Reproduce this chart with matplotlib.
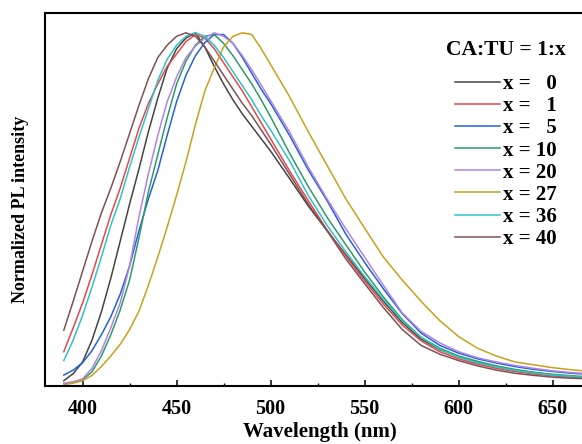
import matplotlib
matplotlib.use("Agg")
import matplotlib.pyplot as plt
from matplotlib.font_manager import FontProperties

plt.rcParams['font.family'] = ['Liberation Serif', 'DejaVu Serif']
plt.rcParams['font.weight'] = 'bold'

wavelength = [390, 395, 400, 405, 410, 415, 420, 425, 430, 435, 440, 445, 450, 455,
              460, 465, 470, 475, 480, 485, 490, 495, 500, 510, 520, 530, 540, 550,
              560, 570, 580, 590, 600, 610, 620, 630, 640, 650, 660, 666]

x0 = [0.015, 0.035, 0.068, 0.13, 0.21, 0.305, 0.41, 0.515, 0.615, 0.72, 0.815, 0.9, 0.955, 0.985,
      1.0, 0.96, 0.905, 0.855, 0.81, 0.77, 0.735, 0.7, 0.665, 0.588, 0.51, 0.44, 0.372, 0.305,
      0.24, 0.18, 0.133, 0.103, 0.083, 0.067, 0.055, 0.045, 0.038, 0.032, 0.027, 0.025]
x1 = [0.097, 0.165, 0.235, 0.315, 0.4, 0.485, 0.56, 0.645, 0.73, 0.8, 0.855, 0.905, 0.94, 0.975,
      0.995, 0.985, 0.955, 0.915, 0.875, 0.835, 0.79, 0.745, 0.7, 0.61, 0.525, 0.442, 0.368, 0.298,
      0.232, 0.173, 0.128, 0.097, 0.077, 0.062, 0.05, 0.041, 0.034, 0.029, 0.025, 0.024]
x5 = [0.031, 0.045, 0.066, 0.1, 0.145, 0.196, 0.26, 0.34, 0.44, 0.53, 0.61, 0.71, 0.805, 0.88,
      0.935, 0.972, 0.995, 0.995, 0.97, 0.93, 0.885, 0.84, 0.8, 0.71, 0.612, 0.525, 0.43, 0.35,
      0.275, 0.205, 0.15, 0.115, 0.093, 0.077, 0.065, 0.055, 0.047, 0.041, 0.036, 0.034]
x10 = [0.005, 0.01, 0.018, 0.04, 0.085, 0.145, 0.215, 0.3, 0.42, 0.55, 0.655, 0.76, 0.855, 0.92,
       0.965, 0.99, 0.995, 0.97, 0.935, 0.895, 0.855, 0.81, 0.762, 0.66, 0.565, 0.478, 0.4, 0.323,
       0.252, 0.188, 0.138, 0.107, 0.085, 0.07, 0.057, 0.047, 0.039, 0.033, 0.029, 0.027]
x20 = [0.008, 0.012, 0.02, 0.05, 0.1, 0.165, 0.235, 0.34, 0.48, 0.6, 0.71, 0.805, 0.875, 0.93,
       0.962, 0.985, 1.0, 0.99, 0.97, 0.935, 0.895, 0.852, 0.808, 0.72, 0.62, 0.53, 0.445, 0.365,
       0.285, 0.207, 0.155, 0.122, 0.097, 0.08, 0.068, 0.058, 0.05, 0.043, 0.038, 0.036]
x27 = [0.004, 0.008, 0.015, 0.03, 0.055, 0.085, 0.118, 0.16, 0.212, 0.285, 0.365, 0.45, 0.54, 0.635,
       0.74, 0.835, 0.9, 0.96, 0.99, 1.0, 0.995, 0.955, 0.91, 0.82, 0.72, 0.625, 0.53, 0.447,
       0.365, 0.3, 0.24, 0.185, 0.14, 0.107, 0.085, 0.068, 0.06, 0.052, 0.046, 0.043]
x36 = [0.072, 0.13, 0.2, 0.28, 0.365, 0.455, 0.53, 0.62, 0.705, 0.785, 0.865, 0.925, 0.965, 0.99,
       1.0, 0.99, 0.965, 0.93, 0.89, 0.85, 0.81, 0.765, 0.725, 0.638, 0.54, 0.455, 0.38, 0.31,
       0.245, 0.185, 0.138, 0.104, 0.082, 0.066, 0.054, 0.044, 0.037, 0.031, 0.027, 0.025]
x40 = [0.158, 0.24, 0.325, 0.41, 0.49, 0.56, 0.635, 0.715, 0.795, 0.87, 0.93, 0.965, 0.99, 1.0,
       0.99, 0.96, 0.92, 0.88, 0.84, 0.8, 0.765, 0.725, 0.685, 0.6, 0.515, 0.44, 0.36, 0.29,
       0.222, 0.16, 0.115, 0.09, 0.072, 0.057, 0.045, 0.036, 0.03, 0.025, 0.022, 0.021]

series = [x0, x1, x5, x10, x20, x27, x36, x40]
labels = ["x =   0", "x =   1", "x =   5", "x = 10", "x = 20", "x = 27", "x = 36", "x = 40"]
colors = ['#454545', '#e5474b', '#2463d6', '#2f9a68', '#b283e4', '#c9a11c', '#2ec3c6', '#7c5254']
legend_title = "CA:TU = 1:x"
xticks = [400, 450, 500, 550, 600, 650]
xminor = [425, 475, 525, 575, 625]

W, H = 582, 444
fig = plt.figure(figsize=(W / 100, H / 100), dpi=100)
left_px, right_px, top_px, bottom_px = 45, 590.2, 13, 386
ax = fig.add_axes([left_px / W, (H - bottom_px) / H, (right_px - left_px) / W, (bottom_px - top_px) / H])

handles = []
for ys, c in zip(series, colors):
    h, = ax.plot(wavelength, ys, color=c, lw=1.1)
    handles.append(h)

ax.set_xlim(380, 670)
ax.set_ylim(0, 1.056)
ax.set_xticks(xticks)
ax.set_xticks(xminor, minor=True)
ax.set_yticks([])
for s in ['left', 'top', 'bottom']:
    ax.spines[s].set_linewidth(1.5)
ax.spines['right'].set_visible(False)
ax.tick_params(axis='x', which='major', direction='in', length=4, width=1.1, pad=9, labelsize=14.5)
ax.tick_params(axis='x', which='minor', direction='in', length=2, width=1.0)
for lab in ax.get_xticklabels():
    lab.set_fontweight('bold')

ax.set_xlabel("Wavelength (nm)", fontsize=15, fontweight='bold', va='center')
ax.xaxis.set_label_coords((320 - left_px) / (right_px - left_px), (bottom_px - 432) / (bottom_px - top_px))
ax.set_ylabel("Normalized PL intensity", fontsize=13, fontweight='bold', va='center')
ax.yaxis.set_label_coords((21 - left_px) / (right_px - left_px), (bottom_px - 209) / (bottom_px - top_px))

fp = FontProperties(family='Liberation Serif', weight='bold', size=15)
fpt = FontProperties(family='Liberation Serif', weight='bold', size=15.5)
leg = ax.legend(handles, labels, title=legend_title, loc='upper right',
                bbox_to_anchor=(576 / W, 1 - 30 / H), bbox_transform=fig.transFigure,
                frameon=False, borderpad=0, prop=fp, title_fontproperties=fpt,
                handlelength=2.2, handletextpad=0.12, labelspacing=0.1)
leg._legend_box.sep = 10

fig.savefig("out.png", dpi=100)
